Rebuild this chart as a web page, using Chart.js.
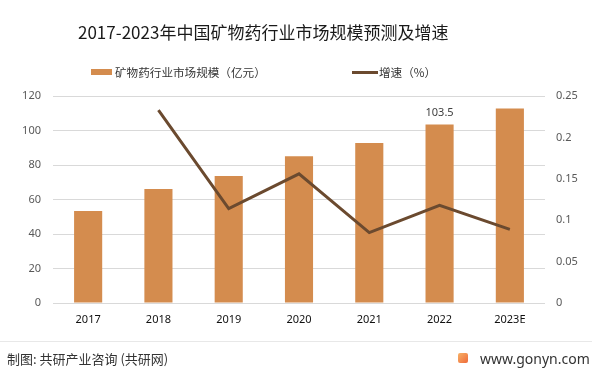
<!DOCTYPE html>
<html>
<head>
<meta charset="utf-8">
<script src="https://cdn.jsdelivr.net/npm/chart.js"></script>
<style>
  body { margin: 0; background: #fff; font-family: "Noto Sans CJK SC", "Noto Sans", sans-serif; }
  #wrap { position: relative; width: 599px; height: 373px; overflow: hidden; }
  #chart { position: absolute; left: 0; top: 0; }
  .title { position: absolute; left: 78px; top: 20px; font-size: 17px; line-height: 24px; color: #1a1a1a; white-space: nowrap; }
  .lg { position: absolute; font-size: 11.6px; line-height: 14px; color: #333; white-space: nowrap; }
  .sw { position: absolute; }
  .rule { position: absolute; left: 0; top: 341px; width: 592px; height: 1px; background: #e8e8e8; }
  .src { position: absolute; left: 7px; top: 350px; font-size: 13px; line-height: 18px; color: #333; white-space: nowrap; }
  .site { position: absolute; left: 480px; top: 349px; font-size: 14px; line-height: 20px; color: #333; white-space: nowrap; font-family: "Noto Sans", sans-serif; }
  .logo { position: absolute; left: 458px; top: 353px; width: 10px; height: 10px; border-radius: 2px; background: linear-gradient(135deg, #f7b267, #ef6a3a); }
</style>
</head>
<body>
<div id="wrap">
  <canvas id="chart" width="599" height="373"></canvas>
  <div class="title">2017-2023年中国矿物药行业市场规模预测及增速</div>
  <div id="legend"></div>
  <div class="rule"></div>
  <div class="src">制图: 共研产业咨询 (共研网)</div>
  <div class="logo"></div>
  <div class="site">www.gonyn.com</div>
</div>
<script>
// 数据
var years = ['2017', '2018', '2019', '2020', '2021', '2022', '2023E'];
var marketSize = [53.4, 66.1, 73.6, 85.1, 92.7, 103.5, 112.8];
var growth = [null, 0.233, 0.114, 0.156, 0.085, 0.118, 0.089];
var sizeLabel = '矿物药行业市场规模（亿元）';
var growthLabel = '增速（%）';
var leftTicks = [0, 20, 40, 60, 80, 100, 120];
var rightTicks = [0, 0.05, 0.1, 0.15, 0.2, 0.25];

var barColor = '#d48c4e';
var lineColor = '#6b4a2f';

// 图例
var legend = document.getElementById('legend');
legend.innerHTML =
    '<div class="sw" style="left:91px;top:69px;width:21px;height:6px;background:' + barColor + '"></div>' +
    '<div class="lg" style="left:115px;top:65px">' + sizeLabel + '</div>' +
    '<div class="sw" style="left:352px;top:71px;width:26px;height:3px;background:' + lineColor + '"></div>' +
    '<div class="lg" style="left:379px;top:65px">' + growthLabel + '</div>';

// 数据标签，只标 2022
var valueLabel = {
    id: 'valueLabel',
    afterDatasetsDraw: function(chart){
        var meta = chart.getDatasetMeta(0);
        var i = years.indexOf('2022');
        var bar = meta.data[i];
        var ctx = chart.ctx;
        ctx.save();
        ctx.font = '11px "Noto Sans", sans-serif';
        ctx.fillStyle = '#404040';
        ctx.textAlign = 'center';
        ctx.textBaseline = 'bottom';
        ctx.fillText(String(marketSize[i]), bar.x, bar.y - 6);
        ctx.restore();
    }
};

var ctx = document.getElementById('chart').getContext('2d');
var config = {
    type: 'bar',
    data: {
        labels: years,
        datasets: [{
            type: 'bar',
            label: sizeLabel,
            data: marketSize,
            backgroundColor: barColor,
            barPercentage: 0.4,
            categoryPercentage: 1,
            yAxisID: 'y',
            order: 1
        }, {
            type: 'line',
            label: growthLabel,
            data: growth,
            borderColor: lineColor,
            backgroundColor: lineColor,
            borderWidth: 3,
            pointRadius: 0,
            tension: 0,
            yAxisID: 'y1',
            order: 0
        }]
    },
    options: {
        responsive: false,
        animation: false,
        layout: { padding: { top: 96, left: 0, right: 0, bottom: 0 } },
        plugins: {
            legend: { display: false },
            title: { display: false },
            tooltip: { enabled: false }
        },
        scales: {
            x: {
                grid: { display: false, drawTicks: false },
                border: { display: false },
                ticks: { color: '#111', padding: 10, font: { size: 11, family: '"Noto Sans", sans-serif' } },
                afterFit: function(s){ s.height = 70; }
            },
            y: {
                position: 'left',
                min: leftTicks[0],
                max: leftTicks[leftTicks.length - 1],
                grid: { color: '#d9d9d9', drawTicks: false },
                border: { display: false },
                afterBuildTicks: function(s){ s.ticks = leftTicks.map(function(v){ return { value: v }; }); },
                ticks: { color: '#595959', padding: 12, font: { size: 11, family: '"Noto Sans", sans-serif' } },
                afterFit: function(s){ s.width = 53; }
            },
            y1: {
                position: 'right',
                min: rightTicks[0],
                max: rightTicks[rightTicks.length - 1],
                grid: { display: false, drawTicks: false },
                border: { display: false },
                afterBuildTicks: function(s){ s.ticks = rightTicks.map(function(v){ return { value: v }; }); },
                ticks: {
                    color: '#595959', padding: 11, font: { size: 11, family: '"Noto Sans", sans-serif' },
                    callback: function(v){ return String(+v.toFixed(2)); }
                },
                afterFit: function(s){ s.width = 54; }
            }
        }
    },
    plugins: [valueLabel]
};
window.myChart = new Chart(ctx, config);
</script>
</body>
</html>
